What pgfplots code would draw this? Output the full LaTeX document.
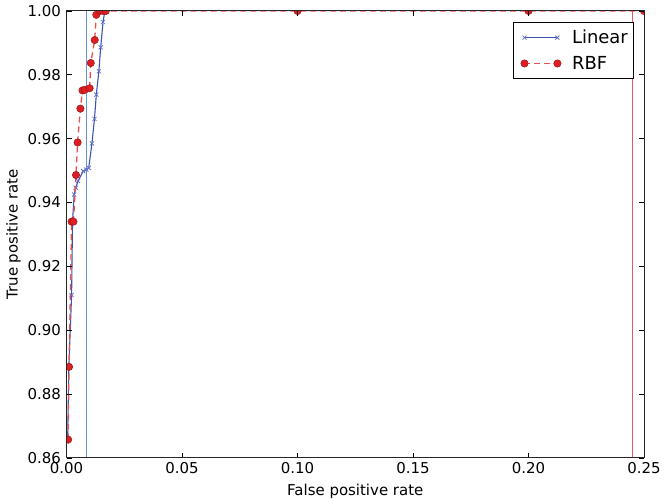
\documentclass[border=0pt]{standalone}
\usepackage{fontspec}
\setmainfont{DejaVu Sans}
\usepackage{pgfplots}
\pgfplotsset{compat=1.18}

\definecolor{linblue}{RGB}{62,82,180}
\definecolor{linmark}{RGB}{100,115,200}
\definecolor{rbfred}{RGB}{221,30,35}
\definecolor{rbfedge}{RGB}{160,20,20}
\definecolor{rbfdash}{RGB}{235,80,80}
\definecolor{vblue}{RGB}{100,150,215}
\definecolor{vred}{RGB}{235,90,90}

\begin{document}
\begin{tikzpicture}
\begin{axis}[
  scale only axis,
  width=579pt, height=448pt,
  xmin=0, xmax=0.25, ymin=0.86, ymax=1.0,
  xtick={0,0.05,0.10,0.15,0.20,0.25},
  ytick={0.86,0.88,0.90,0.92,0.94,0.96,0.98,1.00},
  xticklabel style={yshift=-1.5pt,/pgf/number format/.cd,fixed,fixed zerofill,precision=2},
  yticklabel style={xshift=-2pt,/pgf/number format/.cd,fixed,fixed zerofill,precision=2},
  /pgf/number format/assume math mode=true,
  tick label style={font=\fontsize{15}{17}\selectfont},
  label style={font=\fontsize{15}{17}\selectfont},
  tick align=inside,
  major tick length=5pt,
  tick style={black, line width=0.6pt},
  axis line style={black!85, line width=1pt},
  axis on top,
  clip marker paths=true,
  xlabel={False positive rate},
  ylabel={True positive rate},
  xlabel style={yshift=-3pt},
  legend style={at={(rel axis cs:0.983,0.976)}, anchor=north east,
    draw=black, line width=0.8pt, fill=white,
    font=\fontsize{18}{20}\selectfont, row sep=7pt,
    inner xsep=4pt, inner ysep=6pt},
  legend cell align=left,
  legend image code/.code={
    \path (-6pt,0pt) (45pt,0pt);
    \draw[mark repeat=2, mark phase=1, #1] plot coordinates {(0pt,0pt) (16.5pt,0pt) (33pt,0pt)};
  },
]
% threshold markers
\addplot[vblue, line width=0.8pt, forget plot] coordinates {(0.0088,0.86) (0.0088,1.0)};
\addplot[vred, line width=0.8pt, forget plot] coordinates {(0.2450,0.86) (0.2450,1.0)};

% Linear kernel
\addplot[linblue, line width=1.1pt, mark=x, mark size=2.9pt,
  mark options={linmark, line width=0.8pt}] coordinates {
  (0.0005,0.8660) (0.0010,0.8885) (0.0022,0.9110) (0.0026,0.9340)
  (0.0033,0.9425) (0.0040,0.9446) (0.0050,0.9467) (0.0072,0.9498)
  (0.0086,0.9503) (0.0096,0.9508) (0.0110,0.9585) (0.0121,0.9662)
  (0.0129,0.9738) (0.0140,0.9811) (0.0148,0.9886) (0.0158,0.9965)
  (0.0166,1.0000)
};
\addlegendentry{Linear}

% RBF kernel
\addplot[rbfdash, line width=1.3pt, dash pattern=on 6pt off 4pt, mark=*, mark size=3.7pt,
  mark options={solid, fill=rbfred, draw=rbfedge, line width=0.5pt}] coordinates {
  (0.0007,0.8657) (0.0011,0.8885) (0.0022,0.9340) (0.0030,0.9340)
  (0.0041,0.9486) (0.0048,0.9588) (0.0060,0.9694) (0.0069,0.9751)
  (0.0079,0.9753) (0.0100,0.9758) (0.0105,0.9837) (0.0122,0.9909)
  (0.0129,0.9988) (0.0145,1.0000) (0.0158,1.0000) (0.0170,1.0000)
  (0.1000,1.0000) (0.2000,1.0000) (0.2500,1.0000)
};
\addlegendentry{RBF}
\end{axis}
% page margins as in the reference
\path (current axis.south west) ++(-66.7pt,-44pt);
\path (current axis.north east) ++(18.3pt,11pt);
\end{tikzpicture}
\end{document}
